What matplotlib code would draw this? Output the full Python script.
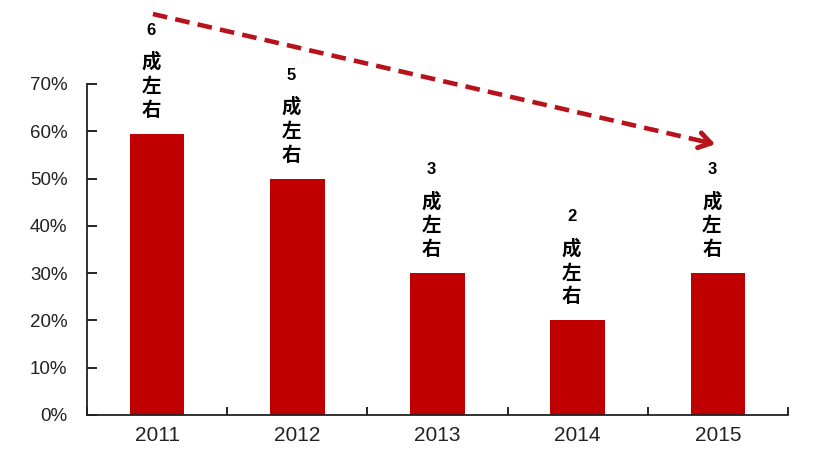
import matplotlib
matplotlib.use("Agg")
import matplotlib.pyplot as plt
import numpy as np

years = ["2011", "2012", "2013", "2014", "2015"]
values = [59.5, 50, 30, 20, 30]
share_digits = ["6", "5", "3", "2", "3"]
label_text = "成\n左\n右"
yticks = [0, 10, 20, 30, 40, 50, 60, 70]

red = "#c00000"
plt.rcParams["font.family"] = ["Liberation Sans", "DejaVu Sans"]

fig = plt.figure(figsize=(8.4, 4.54), dpi=100)
ax = fig.add_axes([0.1036, 0.086, 0.8345, 0.729])

x = np.arange(len(years))
ax.bar(x, values, width=0.39, color=red, zorder=2)

ax.set_xlim(-0.5, len(years) - 0.5)
ax.set_ylim(0, 70)
ax.set_yticks(yticks)
ax.set_yticklabels([f"{t}%" for t in yticks], fontsize=13.5, color="#222222")
ax.set_xticks(x)
ax.set_xticklabels(years, fontsize=15, color="#222222")
ax.tick_params(axis="x", length=0, pad=8)
ax.tick_params(axis="y", direction="in", length=7, width=1.2, pad=14)
# category boundary ticks on the x axis
ax.set_xticks(np.arange(len(years) + 1) - 0.5, minor=True)
ax.tick_params(axis="x", which="minor", direction="in", length=6, width=1.2)

for s in ["top", "right"]:
    ax.spines[s].set_visible(False)
for s in ["left", "bottom"]:
    ax.spines[s].set_linewidth(1.3)
    ax.spines[s].set_color("#222222")

for i, v in enumerate(values):
    ax.annotate(label_text, xy=(i, v), xytext=(-6, 14), textcoords="offset pixels",
                ha="center", va="bottom", fontsize=14, fontweight="bold",
                family=["Noto Sans CJK SC", "DejaVu Sans"], linespacing=1.32,
                annotation_clip=False)
    ax.annotate(share_digits[i], xy=(i, v), xytext=(-6, 96), textcoords="offset pixels",
                ha="center", va="bottom", fontsize=12, fontweight="bold",
                annotation_clip=False)

# dashed trend arrow
x0, y0 = -0.03, 84.8
x1, y1 = 4.0, 57.1
arrow_red = "#b8121b"
ax.plot([x0, x1 - 0.06], [y0, y1 + 0.45], ls=(0, (3.2, 1.8)), lw=3.3, color=arrow_red,
        clip_on=False, zorder=3)
ax.annotate("", xy=(x1, y1), xytext=(x1 - 0.12, y1 + 0.9),
            arrowprops=dict(arrowstyle="->,head_length=0.85,head_width=0.55",
                            lw=3.5, color=arrow_red),
            annotation_clip=False)

fig.savefig("out.png", dpi=100)
